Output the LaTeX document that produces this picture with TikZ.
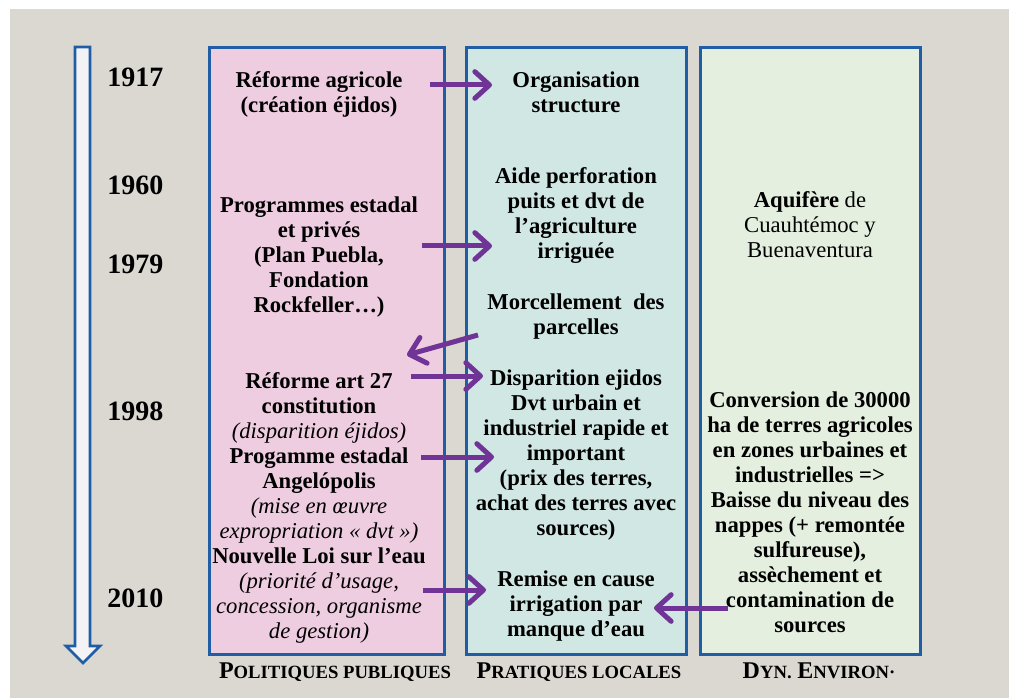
\documentclass[tikz,border=0pt]{standalone}
\usepackage{fontspec}
\setmainfont{Liberation Serif}
\usetikzlibrary{arrows.meta}
\definecolor{FondGris}{RGB}{219,216,210}
\definecolor{CadreBleu}{RGB}{31,94,166}
\definecolor{RosePP}{RGB}{238,205,225}
\definecolor{BleuPL}{RGB}{208,231,228}
\definecolor{VertDE}{RGB}{228,239,223}
\definecolor{FlecheTemps}{RGB}{243,243,245}
\definecolor{ViolFleche}{RGB}{111,52,150}
\newcommand\remarque[1]{{\normalfont\itshape #1}}
\newcommand\petitescap[2]{{\fontsize{18}{20}\selectfont #1}{\fontsize{14}{20}\selectfont #2}}

\begin{document}
\begin{tikzpicture}[x=0.75pt, y=-0.75pt]
				\tikzstyle{every node}=[inner sep=0pt, align=center, font=\fontsize{17}{18.75}\selectfont\bfseries];
				\tikzstyle{annee}=[anchor=base west, font=\fontsize{21}{24}\selectfont\bfseries];
				\tikzstyle{colonne}=[draw=CadreBleu, line width=2.25pt];
				\tikzstyle{fleche}=[draw=ViolFleche, line width=3.75pt, -{Straight Barb[length=11pt, width=20pt, round]}];
				\tikzstyle{titre}=[anchor=base];
				\useasboundingbox (0,0) rectangle (1009,698);
				\fill[white] (0,0) rectangle (1009,698);
				\fill[FondGris] (10,9) rectangle (1009,698);
				\draw[colonne, fill=FlecheTemps, line width=2pt, line join=miter] (75,47) -- (90,47) -- (90,646) -- (100,646) -- (83,663) -- (66,646) -- (75,646) -- cycle;
				\draw[colonne, fill=RosePP] (209,48) rectangle (444,654);
				\draw[colonne, fill=BleuPL] (466,48) rectangle (686,654);
				\draw[colonne, fill=VertDE] (700,48) rectangle (920,654);
				\node [annee] (y1) at (107,87) {1917};
				\node [annee] (y2) at (107,195) {1960};
				\node [annee] (y3) at (107,274) {1979};
				\node [annee] (y4) at (107,420) {1998};
				\node [annee] (y5) at (107,607) {2010};
				\node (p1) at (319,94) {Réforme agricole\\(création éjidos)};
				\node (p2) at (319,257) {Programmes estadal\\et privés\\(Plan Puebla,\\Fondation\\Rockfeller…)};
				\node (p3) at (319,508) {Réforme art 27\\constitution\\\remarque{(disparition éjidos)}\\Progamme estadal\\Angelópolis\\\remarque{(mise en œuvre}\\\remarque{expropriation «~dvt~»)}\\Nouvelle Loi sur l’eau\\\remarque{(priorité d’usage,}\\\remarque{concession, organisme}\\\remarque{de gestion)}};
				\node (l1) at (576,92) {Organisation\\structure};
				\node (l2) at (576,216) {Aide perforation\\puits et dvt de\\l’agriculture\\irriguée};
				\node (l3) at (576,317) {Morcellement\enspace des\\parcelles};
				\node (l4) at (576,455) {Disparition ejidos\\Dvt urbain et\\industriel rapide et\\important\\(prix des terres,\\achat des terres avec\\sources)};
				\node (l5) at (576,606) {Remise en cause\\irrigation par\\manque d’eau};
				\node [font=\fontsize{17}{18.75}\selectfont] (e1) at (810,225) {\textbf{Aquifère} de\\Cuauhtémoc y\\Buenaventura};
				\node (e2) at (810,512) {Conversion de 30000\\ha de terres agricoles\\en zones urbaines et\\industrielles =>\\Baisse du niveau des\\nappes (+ remontée\\sulfureuse),\\assèchement et\\contamination de\\sources};
				\node [titre] (t1) at (335,678) {\petitescap{P}{OLITIQUES PUBLIQUES}};
				\node [titre] (t2) at (579,678) {\petitescap{P}{RATIQUES LOCALES}};
				\node [titre] (t3) at (819,678) {\petitescap{D}{YN.} \petitescap{E}{NVIRON·}};
				\coordinate (a1s) at (430,85);
				\coordinate (a1e) at (492,85);
				\coordinate (a2s) at (422,246);
				\coordinate (a2e) at (492,246);
				\coordinate (a3s) at (478,335);
				\coordinate (a3e) at (407,355);
				\coordinate (a4s) at (411,376);
				\coordinate (a4e) at (483,376);
				\coordinate (a5s) at (421,457);
				\coordinate (a5e) at (494,457);
				\coordinate (a6s) at (423,590);
				\coordinate (a6e) at (486,590);
				\coordinate (a7s) at (728,608);
				\coordinate (a7e) at (654,608);
				\draw[fleche] (a1s) -- (a1e);
				\draw[fleche] (a2s) -- (a2e);
				\draw[fleche] (a3s) -- (a3e);
				\draw[fleche] (a4s) -- (a4e);
				\draw[fleche] (a5s) -- (a5e);
				\draw[fleche] (a6s) -- (a6e);
				\draw[fleche] (a7s) -- (a7e);
\end{tikzpicture}
\end{document}
